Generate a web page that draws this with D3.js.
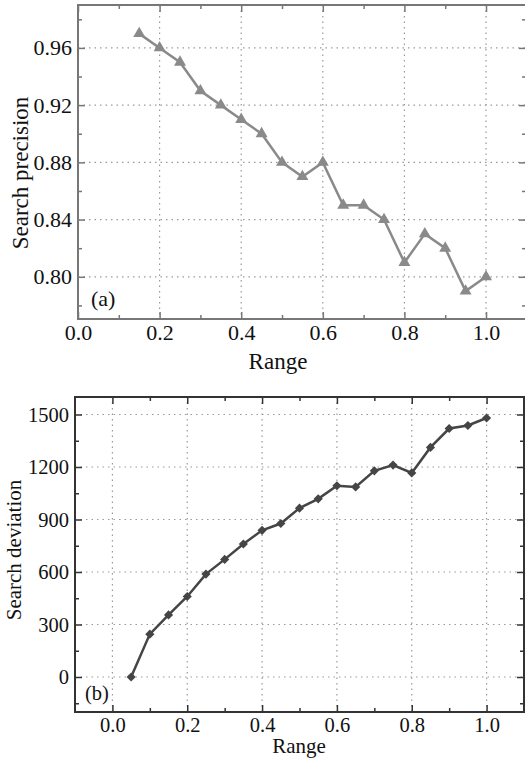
<!DOCTYPE html>
<html>
<head>
<meta charset="utf-8">
<script src="https://cdn.jsdelivr.net/npm/d3@7"></script>
<style>
  body { margin: 0; background: #fff; }
  svg { display: block; }
  svg text { font-family: "Liberation Serif", "Times New Roman", serif !important; }
</style>
</head>
<body>
<svg id="chart" width="525" height="760"></svg>
<script>
// panel (a): search precision vs range
var rangeA = [0.15, 0.2, 0.25, 0.3, 0.35, 0.4, 0.45, 0.5, 0.55, 0.6, 0.65, 0.7, 0.75, 0.8, 0.85, 0.9, 0.95, 1.0];
var precision = [0.97, 0.96, 0.95, 0.93, 0.92, 0.91, 0.90, 0.88, 0.87, 0.88, 0.85, 0.85, 0.84, 0.81, 0.83, 0.82, 0.79, 0.80];
var xTicksA = [0, 0.2, 0.4, 0.6, 0.8, 1.0];
var yTicksA = [0.80, 0.84, 0.88, 0.92, 0.96];

// panel (b): search deviation vs range
var rangeB = [0.05, 0.1, 0.15, 0.2, 0.25, 0.3, 0.35, 0.4, 0.45, 0.5, 0.55, 0.6, 0.65, 0.7, 0.75, 0.8, 0.85, 0.9, 0.95, 1.0];
var deviation = [0, 245, 355, 460, 588, 672, 760, 838, 877, 965, 1018, 1093, 1086, 1178, 1211, 1166, 1312, 1420, 1437, 1480];
var xTicksB = [0, 0.2, 0.4, 0.6, 0.8, 1.0];
var yTicksB = [0, 300, 600, 900, 1200, 1500];

var svg = d3.select("#chart");

function panel(o) {
  var g = svg.append("g");
  var x = d3.scaleLinear().domain(o.xDom).range([o.left, o.right]);
  var y = d3.scaleLinear().domain(o.yDom).range([o.bottom, o.top]);

  // dotted grid
  g.selectAll(".gx").data(o.xTicks.filter(function(d) { return x(d) > o.left + 1; }))
    .enter().append("line")
    .attr("x1", function(d) { return x(d); }).attr("x2", function(d) { return x(d); })
    .attr("y1", o.top).attr("y2", o.bottom)
    .attr("stroke", "#9a9a9a").attr("stroke-width", 1.2).attr("stroke-dasharray", "1.5,4");
  g.selectAll(".gy").data(o.yTicks)
    .enter().append("line")
    .attr("x1", o.left).attr("x2", o.right)
    .attr("y1", function(d) { return y(d); }).attr("y2", function(d) { return y(d); })
    .attr("stroke", "#9a9a9a").attr("stroke-width", 1.2).attr("stroke-dasharray", "1.5,4");

  function ax(axis, tr, vals, size, labels, pad) {
    var a = axis.tickValues(vals).tickSizeInner(-size).tickSizeOuter(0).tickPadding(pad || 0);
    if (labels) a.tickFormat(labels); else a.tickFormat("");
    var s = g.append("g").attr("transform", tr).call(a);
    s.attr("font-family", null);
    s.select(".domain").remove();
    s.selectAll("line").attr("stroke", o.frame).attr("stroke-width", 1.5);
    s.selectAll("text").attr("font-size", o.fs).attr("fill", "#111");
    return s;
  }
  var bot = "translate(0," + o.bottom + ")", topT = "translate(0," + o.top + ")";
  var lef = "translate(" + o.left + ",0)", rig = "translate(" + o.right + ",0)";
  ax(d3.axisBottom(x), bot, o.xTicks, 7, o.xFmt, 5);
  ax(d3.axisBottom(x), bot, o.xMinor, 4);
  ax(d3.axisTop(x), topT, o.xTicks, 7);
  ax(d3.axisTop(x), topT, o.xMinor, 4);
  ax(d3.axisLeft(y), lef, o.yTicks, 7, o.yFmt, 6);
  ax(d3.axisLeft(y), lef, o.yMinor, 4);
  ax(d3.axisRight(y), rig, o.yTicks, 7);
  ax(d3.axisRight(y), rig, o.yMinor, 4);

  // frame
  g.append("rect").attr("x", o.left).attr("y", o.top)
    .attr("width", o.right - o.left).attr("height", o.bottom - o.top)
    .attr("fill", "none").attr("stroke", o.frame).attr("stroke-width", 2);

  // series
  var pts = o.xs.map(function(d, i) { return [d, o.ys[i]]; });
  g.append("path").datum(pts)
    .attr("d", d3.line().x(function(d) { return x(d[0]); }).y(function(d) { return y(d[1]); }))
    .attr("fill", "none").attr("stroke", o.color).attr("stroke-width", 2.5);
  g.selectAll(".mk").data(pts).enter().append("path")
    .attr("d", d3.symbol().type(o.symbol).size(o.symSize))
    .attr("transform", function(d) { return "translate(" + x(d[0]) + "," + y(d[1]) + ") rotate(" + o.symRot + ")"; })
    .attr("fill", o.color);

  // titles
  g.append("text").attr("x", o.xTitleX).attr("y", o.xTitleY).attr("text-anchor", "middle")
    .attr("font-size", o.tfs).attr("fill", "#111").text("Range");
  g.append("text").attr("transform", "translate(" + o.yTitleX + "," + o.yTitleY + ") rotate(-90)")
    .attr("text-anchor", "middle").attr("dy", "0.35em")
    .attr("font-size", o.tfs).attr("fill", "#111").text(o.yTitle);
  g.append("text").attr("x", o.tagX).attr("y", o.tagY)
    .attr("font-size", o.fs).attr("fill", "#111").text(o.tag);
}

panel({
  left: 78, right: 526, top: 5, bottom: 319,
  xDom: [0, 1.098], yDom: [0.7705, 0.99],
  xTicks: xTicksA, xMinor: [0.1, 0.3, 0.5, 0.7, 0.9],
  yTicks: yTicksA, yMinor: [0.78, 0.82, 0.86, 0.90, 0.94, 0.98],
  xFmt: d3.format(".1f"), yFmt: d3.format(".2f"),
  xs: rangeA, ys: precision,
  color: "#8a8a8a", frame: "#777", symbol: d3.symbolTriangle, symSize: 62, symRot: 0,
  fs: 22, tfs: 23,
  xTitleX: 278, xTitleY: 369, yTitleX: 20, yTitleY: 173, yTitle: "Search precision",
  tag: "(a)", tagX: 91, tagY: 306
});

panel({
  left: 75, right: 524, top: 397, bottom: 712,
  xDom: [-0.1, 1.1], yDom: [-200, 1600],
  xTicks: xTicksB, xMinor: [0.1, 0.3, 0.5, 0.7, 0.9],
  yTicks: yTicksB, yMinor: [-150, 150, 450, 750, 1050, 1350],
  xFmt: d3.format(".1f"), yFmt: d3.format("d"),
  xs: rangeB, ys: deviation,
  color: "#454545", frame: "#333", symbol: d3.symbolSquare, symSize: 42, symRot: 45,
  fs: 20.5, tfs: 21,
  xTitleX: 299, xTitleY: 753, yTitleX: 14, yTitleY: 550, yTitle: "Search deviation",
  tag: "(b)", tagX: 85, tagY: 700
});
</script>
</body>
</html>
